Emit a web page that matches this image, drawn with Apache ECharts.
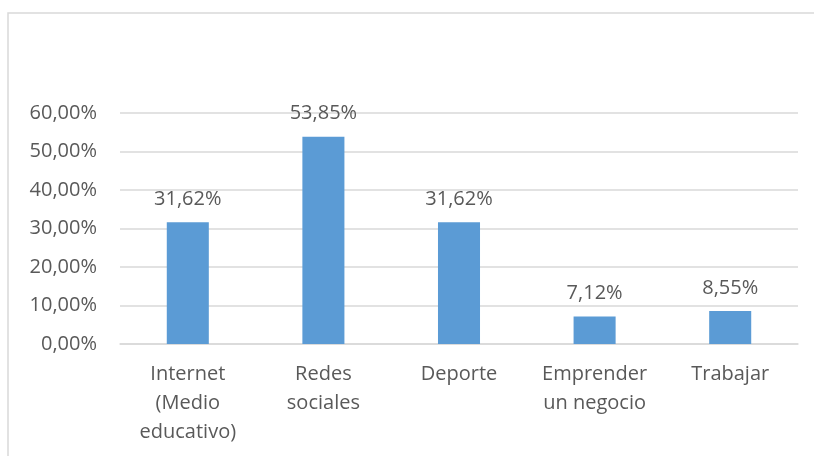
<!DOCTYPE html>
<html>
<head>
<meta charset="utf-8">
<script src="https://cdn.jsdelivr.net/npm/echarts@6/dist/echarts.min.js"></script>
<style>
  html, body { margin: 0; padding: 0; background: #fff; }
  #chart { width: 814px; height: 456px; }
</style>
</head>
<body>
<div id="chart"></div>
<script>
// Categories and shares (percent)
const categories = ['Internet\n(Medio\neducativo)', 'Redes\nsociales', 'Deporte', 'Emprender\nun negocio', 'Trabajar'];
const shares = [31.62, 53.85, 31.62, 7.12, 8.55];
const yTicks = [0, 10, 20, 30, 40, 50, 60];

const fmt = v => v.toFixed(2).replace('.', ',') + '%';
const textColor = '#595959';
const fontFamily = '"Open Sans", "Noto Sans", sans-serif';

const chart = echarts.init(document.getElementById('chart'), null, { renderer: 'canvas' });
chart.setOption({
  animation: false,
  backgroundColor: '#fff',
  graphic: [{
    type: 'rect',
    shape: { x: 8, y: 13, width: 830, height: 480 },
    style: { fill: 'none', stroke: '#D9D9D9', lineWidth: 1.5 },
    silent: true
  }],
  grid: { left: 120, right: 16, top: 113, bottom: 112 },
  xAxis: {
    type: 'category',
    data: categories,
    axisLine: { show: true, lineStyle: { color: '#D9D9D9', width: 1.5 } },
    axisTick: { show: false },
    axisLabel: {
      color: textColor, fontSize: 20, lineHeight: 29, fontFamily: fontFamily,
      margin: 16, interval: 0
    }
  },
  yAxis: {
    type: 'value',
    min: yTicks[0],
    max: yTicks[yTicks.length - 1],
    interval: 10,
    axisLine: { show: false },
    axisTick: { show: false },
    splitLine: { lineStyle: { color: '#D9D9D9', width: 1.5 } },
    axisLabel: {
      color: textColor, fontSize: 20, fontFamily: fontFamily, margin: 23,
      formatter: v => fmt(v)
    }
  },
  series: [{
    type: 'bar',
    data: shares,
    barWidth: '31%',
    itemStyle: { color: '#5B9BD5' },
    label: {
      show: true, position: 'top', distance: 13,
      color: textColor, fontSize: 20, fontFamily: fontFamily,
      formatter: p => fmt(p.value)
    }
  }]
});
</script>
</body>
</html>
